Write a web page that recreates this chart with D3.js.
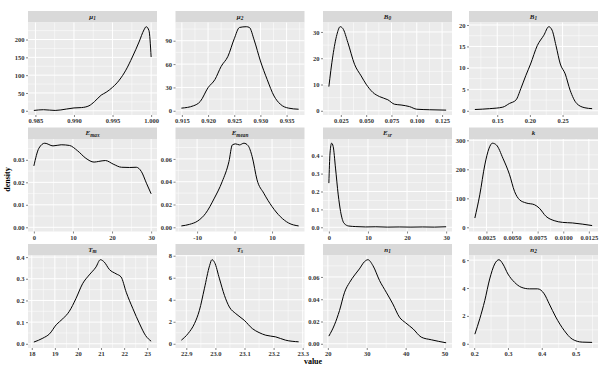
<!DOCTYPE html>
<html lang="en">

<head>
  <meta charset="UTF-8">
  <title>Posterior densities</title>
  <script src="https://cdn.jsdelivr.net/npm/d3@7"></script>
  <style>
    html, body {
      margin: 0;
      padding: 0;
      background: #ffffff;
    }

    .tick text {
      font-family: "Liberation Serif", serif;
      font-size: 6.5px;
      font-weight: bold;
      fill: #333333;
    }

    .tick line {
      stroke: #333333;
      stroke-width: 0.6;
    }

    .strip text {
      font-family: "Liberation Serif", serif;
      font-style: italic;
      font-weight: bold;
      font-size: 7px;
      fill: #1a1a1a;
    }

    .title {
      font-family: "Liberation Serif", serif;
      font-size: 8px;
      font-weight: bold;
      fill: #000000;
    }
  </style>
</head>

<body>
  <div class="chart"></div>

  <script type="text/javascript">
    // strip labels (base + subscript)
    const stripBase = ["μ", "μ", "B", "B", "E", "E", "E", "k", "T", "T", "n", "n"];
    const stripSub = ["1", "2", "0", "1", "max", "mean", "sr", "", "m", "s", "1", "2"];

    // density curves
    const mu1X = [0.9848, 0.98606, 0.98756, 0.98905, 0.990, 0.99097, 0.99194, 0.99267, 0.99353, 0.99417, 0.995, 0.99587, 0.99672, 0.99757, 0.99843, 0.99907, 0.99936, 0.99972, 1.0000];
    const mu1Y = [1, 3, 1, 5, 8, 9, 14, 26, 44, 52, 66, 86, 114, 151, 193, 227, 236, 225, 151];

    const mu2X = [0.9149, 0.9172, 0.9185, 0.920, 0.9213, 0.9225, 0.9238, 0.925, 0.926, 0.9273, 0.9279, 0.9288, 0.930, 0.9313, 0.9326, 0.9338, 0.9354, 0.9373];
    const mu2Y = [3.4, 6.4, 11.9, 29.7, 40, 57, 70, 92.5, 107, 108, 107, 91, 64, 40, 19, 8.5, 3.4, 2];

    const b0X = [0.01316, 0.0171, 0.0211, 0.0243, 0.027, 0.0319, 0.0385, 0.045, 0.050, 0.0566, 0.0632, 0.0714, 0.078, 0.0845, 0.0928, 0.100, 0.1125, 0.129];
    const b0Y = [9.2, 20.9, 29, 32, 31.3, 26, 17.7, 13.3, 10.1, 7, 5.4, 4.2, 2.5, 2.2, 1.6, 0.6, 0.4, 0.25];

    const b1X = [0.1158, 0.1384, 0.1585, 0.1686, 0.1786, 0.1862, 0.1937, 0.201, 0.2113, 0.2213, 0.2289, 0.2339, 0.2399, 0.2465, 0.254, 0.2615, 0.2716, 0.2842, 0.2952];
    const b1Y = [0.3, 0.5, 0.85, 1.7, 2.5, 5.2, 8.2, 10.9, 15.2, 17.6, 19.6, 18.8, 15.2, 10.9, 8.6, 4.8, 1.7, 0.7, 0.5];

    const emaxX = [0, 1.3, 2.8, 4.9, 7.0, 9.1, 11.2, 13.3, 15.4, 16.6, 18.3, 20.3, 22.4, 24.5, 26.2, 27.5, 28.8, 30];
    const emaxY = [0.0273, 0.0352, 0.0374, 0.0362, 0.0367, 0.0364, 0.034, 0.0307, 0.029, 0.0293, 0.0297, 0.0281, 0.0267, 0.0266, 0.0267, 0.0248, 0.0196, 0.0149];

    const emeanX = [-14.2, -12.0, -9.8, -7.7, -5.5, -3.3, -1.5, -0.6, 0.3, 1.3, 2.5, 3.6, 4.7, 6.0, 7.8, 10, 12.2, 14.4, 17.1];
    const emeanY = [0.0012, 0.0026, 0.0056, 0.0123, 0.0249, 0.0401, 0.0577, 0.0723, 0.0732, 0.0723, 0.0738, 0.0717, 0.062, 0.0416, 0.0299, 0.0182, 0.0094, 0.0038, 0.0012];

    const esrX = [0, 0.3, 0.7, 1.1, 1.7, 2.4, 3.0, 3.9, 5.1, 6.9, 9.4, 12, 15, 18, 21, 24, 27, 30];
    const esrY = [0.247, 0.415, 0.47, 0.452, 0.331, 0.181, 0.088, 0.022, 0.007, 0.004, 0.002, 0.003, 0.001, 0.002, 0.001, 0.002, 0.001, 0.003];

    const kX = [0.00137, 0.00185, 0.00234, 0.00276, 0.00308, 0.00347, 0.00411, 0.00476, 0.00524, 0.00573, 0.00637, 0.00718, 0.00766, 0.00831, 0.00911, 0.00992, 0.01089, 0.01185, 0.01282];
    const kY = [32, 112, 215, 273, 290, 284, 238, 181, 124, 95, 84, 78, 66, 38, 23, 17, 15, 11, 6];

    const tmX = [18.09, 18.48, 18.77, 19.06, 19.34, 19.62, 19.91, 20.2, 20.49, 20.78, 20.97, 21.14, 21.36, 21.65, 21.87, 22.09, 22.38, 22.67, 22.93, 23.17];
    const tmY = [0.008, 0.026, 0.046, 0.088, 0.115, 0.149, 0.208, 0.277, 0.318, 0.354, 0.388, 0.377, 0.343, 0.323, 0.308, 0.238, 0.162, 0.092, 0.038, 0.012];

    const tsX = [22.883, 22.906, 22.928, 22.945, 22.962, 22.980, 22.988, 22.997, 23.014, 23.031, 23.048, 23.070, 23.099, 23.127, 23.150, 23.173, 23.207, 23.241, 23.286];
    const tsY = [0.33, 0.93, 1.83, 3.04, 5.0, 7.1, 7.64, 7.4, 5.9, 4.4, 3.34, 2.74, 2.14, 1.38, 1.02, 0.78, 0.63, 0.33, 0.18];

    const n1X = [20.26, 21.7, 23.0, 24.3, 25.6, 26.9, 28.1, 29.4, 30.3, 31.6, 33.3, 35.0, 36.7, 38.4, 40.0, 41.9, 44.0, 46.6, 50.4];
    const n1Y = [0.0069, 0.017, 0.0299, 0.0463, 0.0552, 0.0618, 0.0672, 0.0737, 0.0755, 0.0701, 0.0567, 0.0463, 0.0358, 0.0239, 0.0188, 0.0134, 0.006, 0.0036, 0.0009];

    const n2X = [0.202, 0.2166, 0.2313, 0.2459, 0.2606, 0.2733, 0.285, 0.3, 0.3193, 0.3388, 0.3632, 0.3877, 0.4072, 0.4219, 0.4414, 0.4659, 0.4903, 0.5196, 0.549];
    const n2Y = [0.69, 1.8, 3.1, 4.65, 5.72, 6.03, 5.72, 5.0, 4.41, 4.06, 3.94, 3.94, 3.58, 2.87, 1.92, 0.97, 0.33, 0.12, 0.1];

    // tick values and labels
    const xTicks = [
      [0.985, 0.990, 0.995, 1.000],
      [0.915, 0.920, 0.925, 0.930, 0.935],
      [0.025, 0.050, 0.075, 0.100, 0.125],
      [0.15, 0.20, 0.25],
      [0, 10, 20, 30],
      [-10, 0, 10],
      [0, 10, 20, 30],
      [0.0025, 0.0050, 0.0075, 0.0100, 0.0125],
      [18, 19, 20, 21, 22, 23],
      [22.9, 23.0, 23.1, 23.2, 23.3],
      [20, 30, 40, 50],
      [0.2, 0.3, 0.4, 0.5]
    ];
    const xLabels = [
      ["0.985", "0.990", "0.995", "1.000"],
      ["0.915", "0.920", "0.925", "0.930", "0.935"],
      ["0.025", "0.050", "0.075", "0.100", "0.125"],
      ["0.15", "0.20", "0.25"],
      ["0", "10", "20", "30"],
      ["-10", "0", "10"],
      ["0", "10", "20", "30"],
      ["0.0025", "0.0050", "0.0075", "0.0100", "0.0125"],
      ["18", "19", "20", "21", "22", "23"],
      ["22.9", "23.0", "23.1", "23.2", "23.3"],
      ["20", "30", "40", "50"],
      ["0.2", "0.3", "0.4", "0.5"]
    ];
    const yTicks = [
      [0, 50, 100, 150, 200],
      [0, 30, 60, 90],
      [0, 10, 20, 30],
      [0, 5, 10, 15, 20],
      [0, 0.01, 0.02, 0.03],
      [0, 0.02, 0.04, 0.06],
      [0, 0.1, 0.2, 0.3, 0.4],
      [0, 100, 200, 300],
      [0, 0.1, 0.2, 0.3, 0.4],
      [0, 2, 4, 6, 8],
      [0, 0.02, 0.04, 0.06],
      [0, 2, 4, 6]
    ];
    const yLabels = [
      ["0", "50", "100", "150", "200"],
      ["0", "30", "60", "90"],
      ["0", "10", "20", "30"],
      ["0", "5", "10", "15", "20"],
      ["0.00", "0.01", "0.02", "0.03"],
      ["0.00", "0.02", "0.04", "0.06"],
      ["0.0", "0.1", "0.2", "0.3", "0.4"],
      ["0", "100", "200", "300"],
      ["0.0", "0.1", "0.2", "0.3", "0.4"],
      ["0", "2", "4", "6", "8"],
      ["0.00", "0.02", "0.04", "0.06"],
      ["0", "2", "4", "6"]
    ];

    const curves = [
      [mu1X, mu1Y], [mu2X, mu2Y], [b0X, b0Y], [b1X, b1Y],
      [emaxX, emaxY], [emeanX, emeanY], [esrX, esrY], [kX, kY],
      [tmX, tmY], [tsX, tsY], [n1X, n1Y], [n2X, n2Y]
    ];

    // layout
    const width = 615, height = 369;
    const colLeft = [28, 175.5, 323, 469];
    const rowTop = [11, 127.5, 244];
    const panelW = 129, stripH = 11.5, panelH = 92.5;

    const svg = d3.select(".chart")
      .append("svg")
      .attr("width", width)
      .attr("height", height);

    // ggplot style: 5% padding on both sides
    function expand(lo, hi) {
      const pad = (hi - lo) * 0.05;
      return [lo - pad, hi + pad];
    }

    function minorBreaks(ticks, domain) {
      const step = ticks[1] - ticks[0];
      const out = [];
      for (let v = ticks[0] - step / 2; v <= domain[1]; v += step) {
        if (v >= domain[0]) out.push(v);
      }
      return out;
    }

    curves.forEach(function(c, i) {
      const col = i % 4, row = Math.floor(i / 4);
      const xs = c[0], ys = c[1];
      const pts = xs.map(function(d, j) { return [d, ys[j]]; });

      const g = svg.append("g")
        .attr("transform", `translate(${colLeft[col]}, ${rowTop[row]})`);

      // strip
      const strip = g.append("g").attr("class", "strip");
      strip.append("rect")
        .attr("width", panelW)
        .attr("height", stripH)
        .attr("fill", "#d9d9d9");
      const label = strip.append("text")
        .attr("x", panelW / 2)
        .attr("y", stripH / 2 + 2)
        .attr("text-anchor", "middle");
      label.append("tspan").text(stripBase[i]);
      if (stripSub[i]) {
        label.append("tspan")
          .attr("dy", 1.5)
          .style("font-size", "5.3px")
          .text(stripSub[i]);
      }

      const p = g.append("g").attr("transform", `translate(0, ${stripH})`);

      const x = d3.scaleLinear()
        .domain(expand(d3.min(xs), d3.max(xs)))
        .range([0, panelW]);
      const y = d3.scaleLinear()
        .domain(expand(0, d3.max(ys)))
        .range([panelH, 0]);

      p.append("rect")
        .attr("width", panelW)
        .attr("height", panelH)
        .attr("fill", "#ebebeb");

      // minor grid
      p.selectAll(".vminor")
        .data(minorBreaks(xTicks[i], x.domain()))
        .enter()
        .append("line")
        .attr("x1", d => x(d)).attr("x2", d => x(d))
        .attr("y1", 0).attr("y2", panelH)
        .attr("stroke", "#ffffff").attr("stroke-width", 0.5);
      p.selectAll(".hminor")
        .data(minorBreaks(yTicks[i], y.domain()))
        .enter()
        .append("line")
        .attr("y1", d => y(d)).attr("y2", d => y(d))
        .attr("x1", 0).attr("x2", panelW)
        .attr("stroke", "#ffffff").attr("stroke-width", 0.5);

      // major grid
      p.selectAll(".vmajor")
        .data(xTicks[i])
        .enter()
        .append("line")
        .attr("x1", d => x(d)).attr("x2", d => x(d))
        .attr("y1", 0).attr("y2", panelH)
        .attr("stroke", "#ffffff").attr("stroke-width", 1);
      p.selectAll(".hmajor")
        .data(yTicks[i])
        .enter()
        .append("line")
        .attr("y1", d => y(d)).attr("y2", d => y(d))
        .attr("x1", 0).attr("x2", panelW)
        .attr("stroke", "#ffffff").attr("stroke-width", 1);

      // density line
      p.append("path")
        .datum(pts)
        .attr("fill", "none")
        .attr("stroke", "#000000")
        .attr("stroke-width", 1)
        .attr("d", d3.line()
          .x(d => x(d[0]))
          .y(d => y(d[1]))
          .curve(d3.curveMonotoneX));

      // axes
      const xAxis = p.append("g")
        .attr("transform", `translate(0, ${panelH})`)
        .call(d3.axisBottom(x)
          .tickValues(xTicks[i])
          .tickFormat((d, j) => xLabels[i][j])
          .tickSize(2)
          .tickPadding(1.5));
      xAxis.select(".domain").remove();

      const yAxis = p.append("g")
        .call(d3.axisLeft(y)
          .tickValues(yTicks[i])
          .tickFormat((d, j) => yLabels[i][j])
          .tickSize(2)
          .tickPadding(1.5));
      yAxis.select(".domain").remove();
    });

    // axis titles
    svg.append("text")
      .attr("class", "title")
      .attr("x", (colLeft[0] + colLeft[3] + panelW) / 2)
      .attr("y", 364)
      .attr("text-anchor", "middle")
      .text("value");

    svg.append("text")
      .attr("class", "title")
      .attr("transform", `translate(10, ${(rowTop[0] + rowTop[2] + stripH + panelH) / 2}) rotate(-90)`)
      .attr("text-anchor", "middle")
      .text("density");
  </script>
</body></html>
